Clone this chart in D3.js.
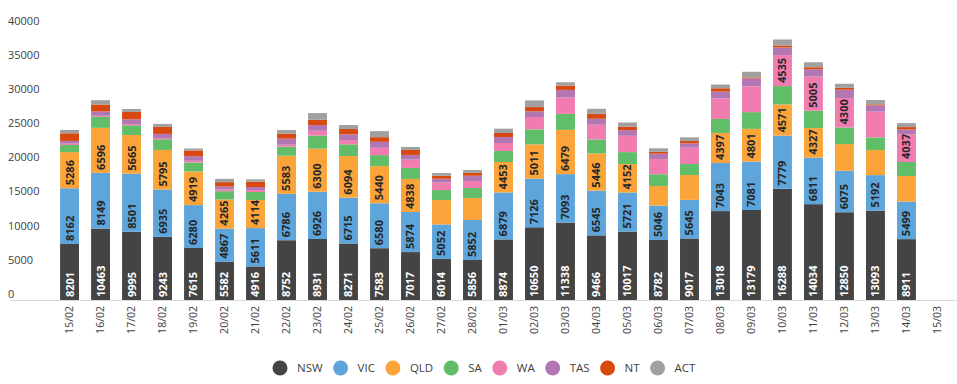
<!DOCTYPE html>
<html>
<head>
<meta charset="utf-8">
<script src="https://cdn.jsdelivr.net/npm/d3@7"></script>
<style>
body { margin: 0; background: #ffffff; }
svg { display: block; font-family: "Open Sans", sans-serif; }
</style>
</head>
<body>
<svg id="chart" width="957" height="384"></svg>
<script>
var dates = ["15/02","16/02","17/02","18/02","19/02","20/02","21/02","22/02","23/02","24/02","25/02","26/02","27/02","28/02",
             "01/03","02/03","03/03","04/03","05/03","06/03","07/03","08/03","09/03","10/03","11/03","12/03","13/03","14/03","15/03"];

var states = ["NSW","VIC","QLD","SA","WA","TAS","NT","ACT"];
var state_colors = ["#444444","#5da5da","#faa43a","#60bd68","#f17cb0","#b276b2","#d9480f","#a0a0a0"];

// 15/03 has no data yet
var nsw = [8201,10463,9995,9243,7615,5582,4916,8752,8931,8271,7583,7017,6014,5856,8874,10650,11338,9466,10017,8782,9017,13018,13179,16288,14034,12850,13093,8911];
var vic = [8162,8149,8501,6935,6280,4867,5611,6786,6926,6715,6580,5874,5052,5852,6879,7126,7093,6545,5721,5046,5645,7043,7081,7779,6811,6075,5192,5499];
var qld = [5286,6596,5665,5795,4919,4265,4114,5583,6300,6094,5440,4838,3570,3220,4453,5011,6479,5446,4152,2870,3640,4397,4801,4571,4327,3900,3670,3750];
var sa  = [1050,1610,1415,1560,1320,1220,1170,1320,1925,1710,1610,1610,1460,1460,1610,2200,2340,2050,1760,1710,1610,2050,2440,2680,2540,2440,1860,2050];
var wa  = [200,150,200,200,245,245,290,290,700,630,1070,1220,1120,1025,1170,1800,2390,2150,2390,2240,2390,3030,3760,4535,5005,4300,3760,4037];
var tas = [390,630,680,585,680,440,440,880,830,830,880,680,540,780,880,830,1120,880,830,780,630,975,1170,1120,1070,1220,920,730];
var nt  = [1120,1025,1075,1025,830,635,780,730,780,780,680,730,440,440,585,630,630,730,490,290,340,490,150,290,290,290,150,340];
var act = [490,630,440,440,290,490,340,540,975,585,880,440,390,390,630,975,490,730,630,490,540,540,830,880,730,585,630,585];

var y_ticks = [0,5000,10000,15000,20000,25000,30000,35000,40000];

var series_values = [nsw, vic, qld, sa, wa, tas, nt, act];

var rows = [];
for(var i = 0; i < nsw.length; i++)
{
    var row = { date: dates[i] };
    for(var s = 0; s < states.length; s++)
    {
        row[states[s]] = series_values[s][i];
    }
    rows.push(row);
}

var svg = d3.select("#chart");

var x = d3.scaleBand().domain(dates).range([48, 959]).padding(0.39);
var y = d3.scaleLinear().domain([0, 40000]).range([300, 26.8]);
var color = d3.scaleOrdinal().domain(states).range(state_colors);

var stacked = d3.stack().keys(states)(rows);

// y axis labels, no grid lines
svg.append("g").selectAll("text")
    .data(y_ticks)
    .join("text")
    .attr("x", 8)
    .attr("y", function(d) { return y(d) - 6; })
    .attr("dy", "0.35em")
    .style("font-size", "11px")
    .style("fill", "#404040")
    .text(function(d) { return d; });

var layers = svg.append("g").selectAll("g")
    .data(stacked)
    .join("g")
    .attr("fill", function(d) { return color(d.key); });

layers.selectAll("rect")
    .data(function(d) { return d; })
    .join("rect")
    .attr("x", function(d) { return x(d.data.date); })
    .attr("width", x.bandwidth())
    .attr("y", function(d) { return y(d[1]); })
    .attr("height", function(d) { return y(d[0]) - y(d[1]); });

// value labels at the inside base of segments big enough to hold them
layers.each(function(layer)
{
    var is_nsw = layer.key == "NSW";
    d3.select(this).selectAll("text")
        .data(layer.filter(function(d) { return (d[1] - d[0]) >= 4000; }))
        .join("text")
        .attr("transform", function(d)
        {
            var cx = x(d.data.date) + x.bandwidth() / 2;
            return "translate(" + cx + "," + (y(d[0]) - 3) + ") rotate(-90)";
        })
        .attr("dy", "0.36em")
        .style("font-size", "11px")
        .style("font-weight", "bold")
        .style("fill", is_nsw ? "#ffffff" : "#262626")
        .text(function(d) { return d[1] - d[0]; });
});

// x axis
svg.append("line")
    .attr("x1", 10).attr("x2", 957)
    .attr("y1", 300.5).attr("y2", 300.5)
    .style("stroke", "#d9d9d9")
    .style("stroke-width", 1);

svg.append("g").selectAll("text")
    .data(dates)
    .join("text")
    .attr("transform", function(d)
    {
        return "translate(" + (x(d) + x.bandwidth() / 2) + ",306) rotate(-90)";
    })
    .attr("text-anchor", "end")
    .attr("dy", "0.35em")
    .style("font-size", "10.5px")
    .style("fill", "#404040")
    .text(function(d) { return d; });

// legend
var legend = svg.append("g");
var lx = 280;
for(var k = 0; k < states.length; k++)
{
    legend.append("circle")
        .attr("cx", lx).attr("cy", 368).attr("r", 7.5)
        .style("fill", state_colors[k]);
    var t = legend.append("text")
        .attr("x", lx + 17).attr("y", 368)
        .attr("dy", "0.35em")
        .style("font-size", "11.5px")
        .style("fill", "#404040")
        .text(states[k]);
    lx = lx + 17 + t.node().getComputedTextLength() + 18;
}
</script>
</body>
</html>
